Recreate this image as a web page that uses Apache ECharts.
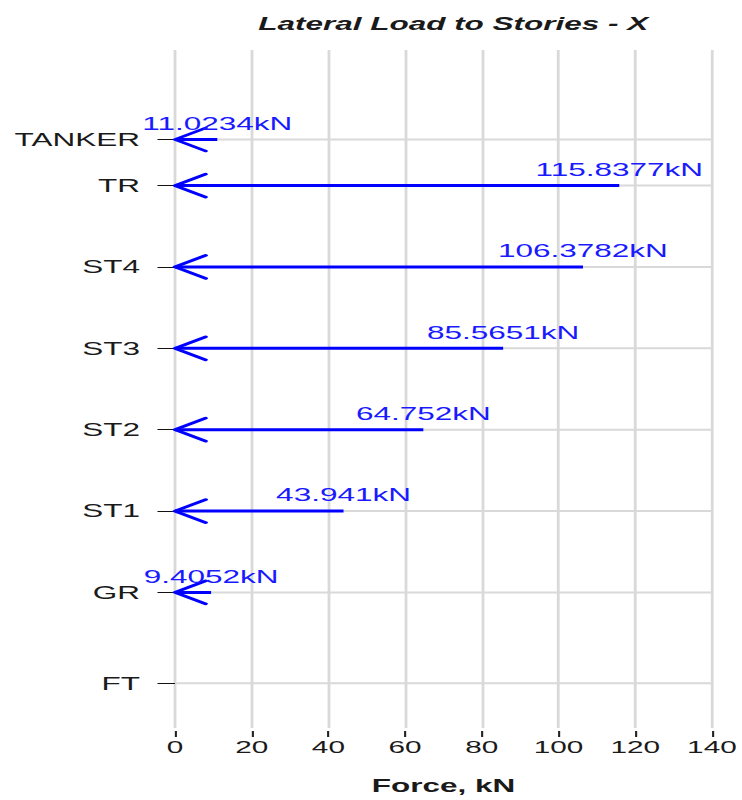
<!DOCTYPE html>
<html>
<head>
<meta charset="utf-8">
<script src="https://cdn.jsdelivr.net/npm/echarts@6/dist/echarts.min.js"></script>
<style>
  html, body { margin: 0; padding: 0; background: #fff; }
  #wrap { width: 742px; height: 800px; overflow: hidden; }
  /* the plot is laid out narrow and widened horizontally */
  #chart { width: 424px; height: 800px; transform: scaleX(1.75); transform-origin: 0 0; }
</style>
</head>
<body>
<div id="wrap"><div id="chart"></div></div>
<script>
// Story names, their elevations (m) and the lateral load applied at each (kN)
const stories = ['FT', 'GR', 'ST1', 'ST2', 'ST3', 'ST4', 'TR', 'TANKER'];
const elevations = [-3.35, 0, 3, 6, 9, 12, 15, 16.7];
const loads = [null, 9.4052, 43.941, 64.752, 85.5651, 106.3782, 115.8377, 11.0234];
const forceTicks = [0, 20, 40, 60, 80, 100, 120, 140];

const FONT = '"Liberation Sans", Arial, sans-serif';
const xMin = forceTicks[0], xMax = forceTicks[forceTicks.length - 1];

const gridData = elevations.map(function (h) { return [h]; });
const loadData = [];
loads.forEach(function (v, i) {
  if (v !== null) loadData.push([v, elevations[i]]);
});

const chart = echarts.init(document.getElementById('chart'), null, { renderer: 'svg' });

chart.setOption({
  animation: false,
  backgroundColor: '#fff',
  title: {
    text: 'Lateral Load to Stories - X',
    left: 254,
    top: 10,
    textAlign: 'center',
    textStyle: { fontFamily: FONT, fontSize: 18, fontStyle: 'italic', fontWeight: 'bold', color: '#1a1a1a' }
  },
  grid: { left: 100, right: 16.6, top: 50, bottom: 72 },
  xAxis: {
    type: 'value',
    min: xMin,
    max: xMax,
    interval: 20,
    offset: 3,
    axisLine: { show: false, onZero: false },
    axisTick: { show: true, length: 6, lineStyle: { color: '#222', width: 1.2 } },
    axisLabel: { margin: 8, fontFamily: FONT, fontSize: 17, color: '#1a1a1a' },
    splitLine: { show: true, lineStyle: { color: '#d9d9d9', width: 1.6 } },
    name: 'Force, kN',
    nameLocation: 'middle',
    nameGap: 46,
    nameTextStyle: { fontFamily: FONT, fontSize: 18, fontWeight: 'bold', color: '#1a1a1a' }
  },
  yAxis: {
    type: 'value',
    min: -5,
    max: 20,
    axisLine: { show: false, onZero: false },
    splitLine: { show: false },
    axisTick: { show: true, customValues: elevations, length: 10, lineStyle: { color: '#111', width: 1 } },
    axisLabel: {
      customValues: elevations,
      margin: 20,
      fontFamily: FONT,
      fontSize: 18,
      color: '#1a1a1a',
      formatter: function (val) {
        const i = elevations.indexOf(val);
        return i >= 0 ? stories[i] : '';
      }
    }
  },
  series: [
    {
      // horizontal guide line at every story level
      type: 'custom',
      z: 1,
      silent: true,
      data: gridData,
      encode: { y: 0 },
      renderItem: function (params, api) {
        const h = api.value(0);
        const a = api.coord([xMin, h]);
        const b = api.coord([xMax, h]);
        return {
          type: 'line',
          shape: { x1: a[0], y1: a[1], x2: b[0], y2: b[1] },
          style: { stroke: '#d9d9d9', lineWidth: 2 }
        };
      }
    },
    {
      // load arrows with their value labels
      type: 'custom',
      z: 3,
      data: loadData,
      encode: { x: 0, y: 1 },
      renderItem: function (params, api) {
        const v = api.value(0);
        const h = api.value(1);
        const p0 = api.coord([0, h]);
        const p1 = api.coord([v, h]);
        return {
          type: 'group',
          children: [
            {
              type: 'line',
              shape: { x1: p0[0], y1: p0[1], x2: p1[0], y2: p1[1] },
              style: { stroke: '#0000ff', lineWidth: 3 }
            },
            {
              type: 'polyline',
              shape: { points: [[p0[0] + 17.5, p0[1] - 11.5], [p0[0], p0[1]], [p0[0] + 17.5, p0[1] + 11.5]] },
              style: { stroke: '#0000ff', fill: null, lineWidth: 2.6, lineJoin: 'round', lineCap: 'round' }
            },
            {
              type: 'text',
              style: {
                text: v + 'kN',
                x: p1[0],
                y: p1[1] - 16,
                align: 'center',
                verticalAlign: 'middle',
                fontFamily: FONT,
                fontSize: 18,
                fill: '#1a1aff'
              }
            }
          ]
        };
      }
    }
  ]
});
</script>
</body>
</html>
